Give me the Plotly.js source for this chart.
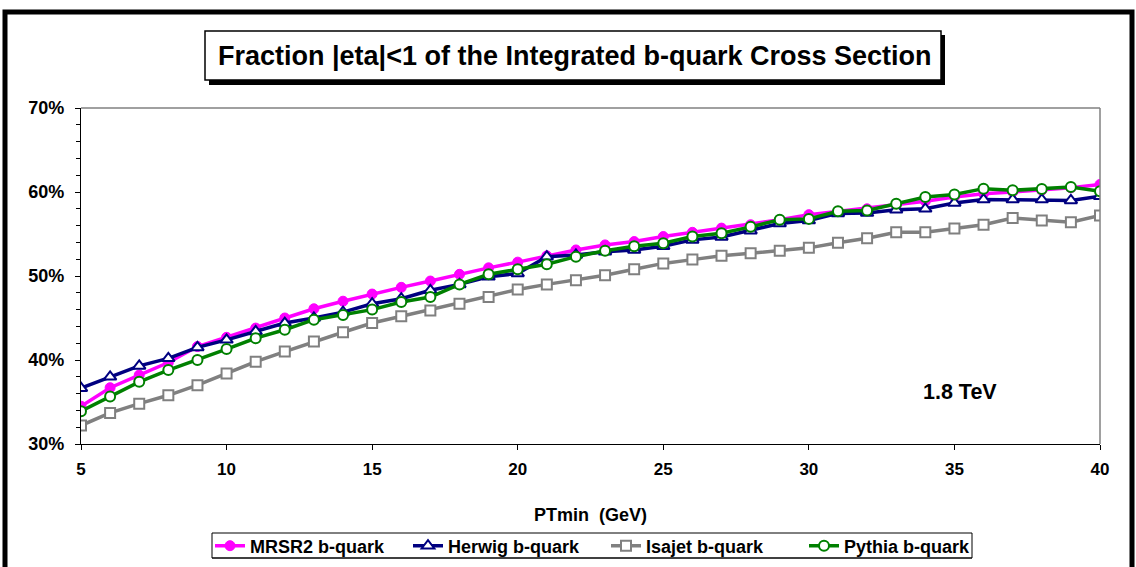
<!DOCTYPE html>
<html>
<head>
<meta charset="utf-8">
<script src="https://cdn.plot.ly/plotly-3.0.1.min.js"></script>
<style>
  html, body { margin: 0; padding: 0; background: #ffffff; overflow: hidden; }
  #chart { width: 1136px; height: 567px; }
</style>
</head>
<body>
<div id="chart"></div>
<script>
// PTmin values (GeV)
const ptmin = [5,6,7,8,9,10,11,12,13,14,15,16,17,18,19,20,21,22,23,24,25,26,27,28,29,30,31,32,33,34,35,36,37,38,39,40];

// Fraction |eta|<1 (as fractions)
const mrsr2 = [0.345,0.367,0.382,0.397,0.416,0.427,0.438,0.450,0.461,0.470,0.4785,0.4865,0.494,0.502,0.5097,0.5165,0.524,0.531,0.537,0.541,0.547,0.552,0.557,0.561,0.567,0.573,0.577,0.580,0.584,0.589,0.594,0.598,0.600,0.602,0.605,0.609];
const herwig = [0.3665,0.380,0.393,0.402,0.415,0.424,0.434,0.444,0.450,0.457,0.467,0.473,0.483,0.490,0.499,0.503,0.523,0.525,0.529,0.531,0.5355,0.543,0.5465,0.554,0.5625,0.566,0.5745,0.575,0.579,0.580,0.587,0.591,0.591,0.591,0.590,0.595];
const isajet = [0.322,0.337,0.348,0.358,0.370,0.384,0.398,0.410,0.422,0.433,0.444,0.452,0.459,0.467,0.475,0.484,0.490,0.495,0.501,0.508,0.515,0.5195,0.524,0.527,0.530,0.5335,0.5395,0.545,0.552,0.552,0.5565,0.561,0.569,0.566,0.564,0.572];
const pythia = [0.339,0.3565,0.374,0.388,0.400,0.413,0.426,0.436,0.448,0.4535,0.460,0.469,0.475,0.490,0.502,0.508,0.514,0.523,0.530,0.5355,0.539,0.547,0.551,0.5585,0.567,0.568,0.577,0.578,0.586,0.594,0.597,0.604,0.602,0.6035,0.606,0.601];

const seriesNames = ['MRSR2 b-quark', 'Herwig b-quark', 'Isajet b-quark', 'Pythia b-quark'];
const titleText = 'Fraction |eta|<1 of the Integrated b-quark Cross Section';
const xTitle = 'PTmin\u00a0 (GeV)';
const energyLabel = '1.8 TeV';

const F = 'Liberation Sans, Arial, sans-serif';

const traces = [
  {x: ptmin, y: mrsr2, name: seriesNames[0], mode: 'lines+markers',
   line: {color: '#FF00FF', width: 3.5},
   marker: {symbol: 'circle', size: 10, color: '#FF00FF', line: {color: '#FF00FF', width: 1}}},
  {x: ptmin, y: herwig, name: seriesNames[1], mode: 'lines+markers',
   line: {color: '#000080', width: 3.5},
   marker: {symbol: 'triangle-up', size: 11, color: '#FFFFFF', line: {color: '#000080', width: 2}}},
  {x: ptmin, y: isajet, name: seriesNames[2], mode: 'lines+markers',
   line: {color: '#808080', width: 3.5},
   marker: {symbol: 'square', size: 10, color: '#FFFFFF', line: {color: '#808080', width: 2}}},
  {x: ptmin, y: pythia, name: seriesNames[3], mode: 'lines+markers',
   line: {color: '#008000', width: 3.5},
   marker: {symbol: 'circle', size: 10, color: '#FFFFFF', line: {color: '#008000', width: 2}}}
];

// plot area in pixels: x 81..1100, y 108..444
const L = 81, R = 1100, T = 108, B = 444;
const px = v => (v - L) / (R - L);
const py = v => (B - v) / (B - T);

const layout = {
  width: 1136, height: 567,
  margin: {l: L, r: 1136 - R, t: T, b: 567 - B, pad: 0, autoexpand: false},
  paper_bgcolor: '#FFFFFF', plot_bgcolor: '#FFFFFF',
  font: {family: F, color: '#000000', size: 17, weight: 'bold'},
  showlegend: true,
  legend: {
    orientation: 'h', x: px(210), y: py(546), xanchor: 'left', yanchor: 'middle',
    bgcolor: 'rgba(0,0,0,0)', borderwidth: 0,
    font: {family: F, size: 18, color: '#000000', weight: 'bold'},
    itemwidth: 30, tracegroupgap: 0, traceorder: 'normal',
    entrywidth: 153, entrywidthmode: 'pixels'
  },
  xaxis: {
    range: [5, 40], dtick: 5, tick0: 5,
    showgrid: false, zeroline: false,
    showline: true, linecolor: '#000000', linewidth: 1.2,
    ticks: 'outside', ticklen: 5, tickcolor: '#000000', tickwidth: 1,
    ticklabelstandoff: 4,
    tickfont: {family: F, size: 17, weight: 'bold', color: '#000000'}
  },
  yaxis: {
    range: [0.3, 0.7], dtick: 0.1, tick0: 0.3, tickformat: '.0%',
    showgrid: false, zeroline: false,
    showline: true, linecolor: '#000000', linewidth: 1.2,
    ticks: 'outside', ticklen: 5, tickcolor: '#000000', tickwidth: 1,
    ticklabelstandoff: 7,
    minor: {ticks: 'outside', dtick: 0.02, ticklen: 4, tickcolor: '#000000', tickwidth: 1, showgrid: false},
    tickfont: {family: F, size: 18, weight: 'bold', color: '#000000'}
  },
  shapes: [
    // gray top and right plot-area border
    {type: 'line', xref: 'paper', yref: 'paper', x0: 0, x1: 1, y0: 1, y1: 1, line: {color: '#808080', width: 1.5}},
    {type: 'line', xref: 'paper', yref: 'paper', x0: 1, x1: 1, y0: 0, y1: 1, line: {color: '#808080', width: 1.5}},
    // outer chart border
    {type: 'rect', xref: 'paper', yref: 'paper', x0: px(5), x1: px(1132), y0: py(580), y1: py(12),
     line: {color: '#000000', width: 5}, layer: 'below'},
    // title box shadow
    {type: 'rect', xref: 'paper', yref: 'paper', x0: px(209), x1: px(945), y0: py(85), y1: py(35),
     fillcolor: '#000000', line: {color: '#000000', width: 0}},
    // title box
    {type: 'rect', xref: 'paper', yref: 'paper', x0: px(205), x1: px(941), y0: py(80), y1: py(31),
     fillcolor: '#FFFFFF', line: {color: '#000000', width: 1.5}},
    // legend box (four sides)
    {type: 'line', xref: 'paper', yref: 'paper', x0: px(212), x1: px(972), y0: py(533), y1: py(533), line: {color: '#000000', width: 1}},
    {type: 'line', xref: 'paper', yref: 'paper', x0: px(212), x1: px(972), y0: py(558), y1: py(558), line: {color: '#000000', width: 1.5}},
    {type: 'line', xref: 'paper', yref: 'paper', x0: px(212), x1: px(212), y0: py(533), y1: py(558), line: {color: '#000000', width: 1}},
    {type: 'line', xref: 'paper', yref: 'paper', x0: px(972), x1: px(972), y0: py(533), y1: py(558), line: {color: '#000000', width: 1}}
  ],
  annotations: [
    {text: titleText, xref: 'paper', yref: 'paper', x: px(575), y: py(56), xanchor: 'center', yanchor: 'middle',
     showarrow: false, font: {family: F, size: 27, weight: 'bold', color: '#000000'}},
    {text: energyLabel, xref: 'paper', yref: 'paper', x: px(960), y: py(392), xanchor: 'center', yanchor: 'middle',
     showarrow: false, font: {family: F, size: 21.5, weight: 'bold', color: '#000000'}},
    {text: xTitle, xref: 'paper', yref: 'paper', x: px(590), y: py(515), xanchor: 'center', yanchor: 'middle',
     showarrow: false, font: {family: F, size: 18, weight: 'bold', color: '#000000'}}
  ]
};

Plotly.newPlot('chart', traces, layout, {displayModeBar: false, staticPlot: true});
</script>
</body>
</html>
